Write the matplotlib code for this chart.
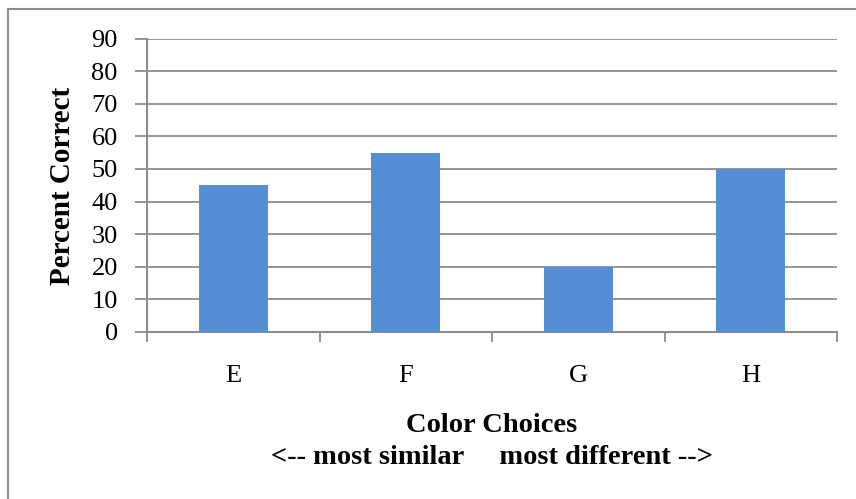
import numpy as np
import matplotlib.pyplot as plt
from matplotlib.patches import Rectangle

categories = ['E', 'F', 'G', 'H']
percent_correct = [45, 55, 20, 50]
y_ticks = [0, 10, 20, 30, 40, 50, 60, 70, 80, 90]

plt.rcParams['font.family'] = ['Liberation Serif', 'DejaVu Serif']

W, H = 856, 499
fig = plt.figure(figsize=(W / 100, H / 100), dpi=100)

# outer chart border (cropped on right/bottom in the original)
fig.patches.append(Rectangle((8 / W, -0.1), 1, 1.1 - 9 / H, transform=fig.transFigure,
                             fill=False, edgecolor='#8c8c8c', linewidth=1.5))

ax = fig.add_axes([147 / W, (H - 332) / H, 690 / W, (332 - 38.5) / H])

x = np.arange(len(categories))
ax.bar(x, percent_correct, width=0.4, color='#558ed5', zorder=3)

ax.set_xlim(-0.5, len(categories) - 0.5)
ax.set_ylim(0, 90)
ax.set_yticks(y_ticks)
ax.yaxis.grid(True, color='#8c8c8c', linewidth=1.3, zorder=0)

# category ticks sit between bars, labels sit under bars
ax.set_xticks(x)
ax.set_xticklabels(categories, fontsize=19)
ax.set_xticks(np.arange(len(categories) + 1) - 0.5, minor=True)
ax.tick_params(axis='x', which='major', length=0, pad=24)
ax.tick_params(axis='x', which='minor', length=7, width=1.3, color='#8c8c8c')
ax.tick_params(axis='y', length=9, width=1.3, color='#8c8c8c', labelsize=19, pad=12)

for s in ['top', 'right']:
    ax.spines[s].set_visible(False)
for s in ['left', 'bottom']:
    ax.spines[s].set_color('#8c8c8c')
    ax.spines[s].set_linewidth(1.5)

fig.text(63 / W, 1 - 186 / H, 'Percent Correct', rotation=90, ha='center', va='center',
         fontsize=21, fontweight='bold')
fig.text(492 / W, 1 - 426 / H, 'Color Choices', ha='center', va='center',
         fontsize=20.5, fontweight='bold')
fig.text(492 / W, 1 - 457 / H, '<-- most similar     most different -->', ha='center', va='center',
         fontsize=20.5, fontweight='bold')

fig.savefig('out.png', dpi=100)
